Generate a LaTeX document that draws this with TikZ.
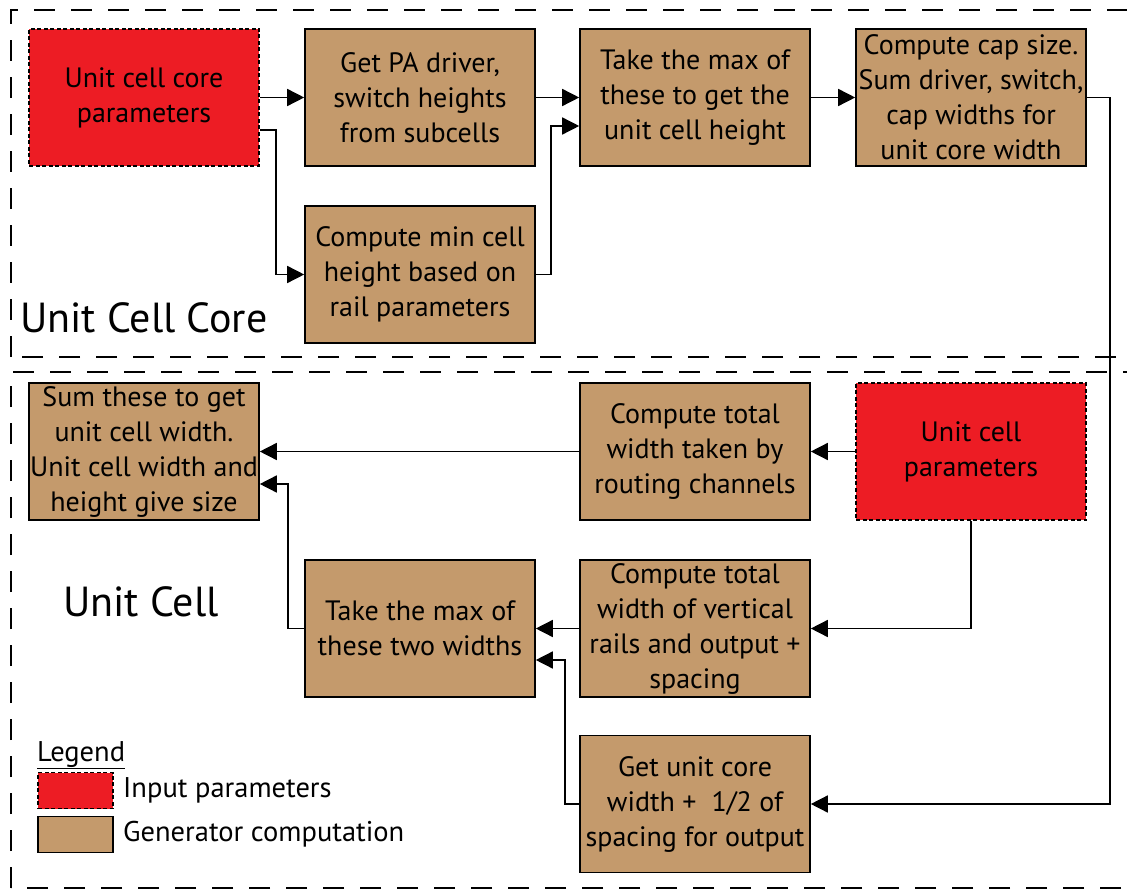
\documentclass[tikz,border=0pt]{standalone}
\usepackage{fontspec}
\setmainfont{PT Sans}
\usetikzlibrary{arrows.meta}
\definecolor{inred}{HTML}{ED1C24}
\definecolor{genbrown}{HTML}{C49A6C}
\tikzset{
  box/.style={draw=black, line width=1.6pt, minimum width=230pt, minimum height=137pt,
    inner sep=0.5pt, align=center, font=\fontsize{28}{35}\selectfont},
  genbox/.style={box, fill=genbrown},
  inbox/.style={box, fill=inred, dash pattern=on 4pt off 2.5pt, line width=1.5pt},
  arr/.style={line width=1.5pt, -{Triangle[length=17pt,width=17pt]}},
  region/.style={line width=1.8pt, dash pattern=on 21pt off 16pt},
  legbox/.style={draw=black, minimum width=75pt, minimum height=36pt, inner sep=0pt},
  legtext/.style={font=\fontsize{28.5}{32}\selectfont},
  biglabel/.style={font=\fontsize{42}{48}\selectfont},
}
\begin{document}
\begin{tikzpicture}[x=1pt,y=-1pt]
\useasboundingbox (0,0) rectangle (1127,890);
% regions
\draw[region] (11,357) -- (11,10) -- (1160,10) -- (1160,357) -- cycle;
\draw[region] (11,888) -- (11,372) -- (1160,372) -- (1160,888) -- cycle;
\node[anchor=base west, biglabel, inner sep=0pt] (lcore) at (20,333) {Unit Cell Core};
\node[anchor=base west, biglabel, inner sep=0pt] (lcell) at (63,616) {Unit Cell};
% nodes
\node[inbox]  (A) at (144,97.5) {Unit cell core\\parameters};
\node[genbox] (B) at (420,97.5) {Get PA driver,\\switch heights\\from subcells};
\node[genbox] (C) at (420,274.5) {Compute min cell\\height based on\\rail parameters};
\node[genbox] (D) at (695,97.5) {Take the max of\\these to get the\\unit cell height};
\node[genbox] (E) at (971,97.5) {Compute cap size.\\Sum driver, switch,\\cap widths for\\unit core width};
\node[genbox] (F) at (144,451.5) {Sum these to get\\unit cell width.\\Unit cell width and\\height give size};
\node[genbox] (G) at (695,451.5) {Compute total\\width taken by\\routing channels};
\node[inbox]  (H) at (971,451.5) {Unit cell\\parameters};
\node[genbox] (I) at (420,628.5) {Take the max of\\these two widths};
\node[genbox] (J) at (695,628.5) {Compute total\\width of vertical\\rails and output +\\spacing};
\node[genbox] (K) at (695,804) {Get unit core\\width +\ \ 1/2 of\\spacing for output};
% connectors
\draw[arr] (A.east) -- (B.west);
\draw[arr] ([yshift=-32.5pt]A.east) -- ++(16,0) |- (C.west);
\draw[arr] (B.east) -- (D.west);
\draw[arr] (C.east) -- ++(15,0) |- ([yshift=-28.5pt]D.west);
\draw[arr] (D.east) -- (E.west);
\coordinate (ER) at (1110,97.5);
\draw[arr] (E.east) -- (ER) |- (K.east);
\draw[arr] (H.west) -- (G.east);
\draw[arr] (G.west) -- (F.east);
\draw[arr] (I.west) -- ++(-16,0) |- ([yshift=-32.5pt]F.east);
\draw[arr] (H.south) |- (J.east);
\draw[arr] (J.west) -- (I.east);
\draw[arr] (K.west) -- ++(-14,0) |- ([yshift=-31.5pt]I.east);
% legend
\node[anchor=base west, legtext, inner sep=0pt] (leg) at (37,761) {\underline{Legend}};
\node[legbox, fill=inred, dash pattern=on 4pt off 2.5pt, line width=1.5pt] (l1) at (75.5,790.5) {};
\node[legbox, fill=genbrown, line width=1.6pt] (l2) at (75.5,834.5) {};
\node[anchor=west, legtext, inner sep=0pt] (t1) at (123,790.5) {Input parameters};
\node[anchor=west, legtext, inner sep=0pt] (t2) at (123,834.5) {Generator computation};
\end{tikzpicture}
\end{document}
